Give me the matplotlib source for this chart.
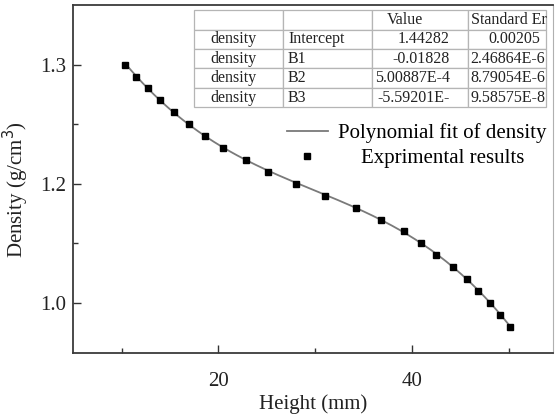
import numpy as np
import matplotlib
matplotlib.use("Agg")
import matplotlib.pyplot as plt
from matplotlib.table import Table
from matplotlib.lines import Line2D

plt.rcParams['font.family'] = ['Liberation Serif', 'DejaVu Serif']

# measured points (height in mm, density in g/cm3)
height = [10.34, 11.45, 12.69, 13.99, 15.41, 16.93, 18.65, 20.44, 22.82, 25.16,
          28.06, 31.05, 34.26, 36.81, 39.22, 40.95, 42.53, 44.23, 45.68, 46.88,
          48.12, 49.12, 50.15]
density = [1.30, 1.29, 1.28, 1.27, 1.26, 1.25, 1.24, 1.23, 1.22, 1.21,
           1.20, 1.19, 1.18, 1.17, 1.16, 1.15, 1.14, 1.13, 1.12, 1.11,
           1.10, 1.09, 1.08]

# fit coefficients shown in the table (B3 is cut off in the table: E-6)
intercept = 1.44282
b1 = -0.01828
b2 = 5.00887e-4
b3 = -5.59201e-6

# table text
table_rows = [
    ["", "", "Value", "Standard Er"],
    ["density", "Intercept", "1.44282", "0.00205"],
    ["density", "B1", "-0.01828", "2.46864E-6"],
    ["density", "B2", "5.00887E-4", "8.79054E-6"],
    ["density", "B3", "-5.59201E-", "9.58575E-8"],
]

ytick_pos = [1.1, 1.2, 1.3]
ytick_labels = ["1.0", "1.2", "1.3"]

fig = plt.figure(figsize=(5.55, 4.17), dpi=100)
ax = fig.add_axes([0.1315, 0.1535, 0.8649, 0.8345])

# fit curve
xf = np.linspace(min(height), max(height), 200)
yf = np.polyval([b3, b2, b1, intercept], xf)
ax.plot(xf, yf, color='#7a7a7a', lw=1.3, zorder=2)
ax.plot(height, density, ls='none', marker='s', ms=4.6, color='black', zorder=3)

ax.set_xlim(4.96, 54.6)
ax.set_ylim(1.058, 1.350)
ax.set_xticks([20, 40])
ax.set_xticks([10, 30, 50], minor=True)
ax.set_yticks(ytick_pos)
ax.set_yticklabels(ytick_labels)
ax.set_yticks([1.15, 1.25], minor=True)
ax.tick_params(which='both', direction='in', labelsize=15, colors='#333333', labelcolor='#222222')
ax.tick_params(which='major', length=6, width=1.0)
ax.tick_params(which='minor', length=3.5, width=1.0)
ax.tick_params(axis='x', pad=14)
ax.tick_params(axis='y', pad=5)

for s in ['left', 'bottom', 'top']:
    ax.spines[s].set_color('#3a3a3a')
    ax.spines[s].set_linewidth(1.3)
ax.spines['right'].set_color('#b0b0b0')
ax.spines['right'].set_linewidth(0.8)

ax.set_xlabel("Height (mm)", fontsize=15, color='#222222')
ax.set_ylabel("Density (g/cm$^3$)", fontsize=15, color='#222222')
ax.yaxis.set_label_coords(-0.087, 0.47)
ax.xaxis.set_label_coords(0.5, -0.118)

# legend, two parts so the texts sit like the original
h_line = Line2D([], [], color='#7a7a7a', lw=1.3)
h_mark = Line2D([], [], ls='none', marker='s', ms=4.6, color='black')
leg1 = ax.legend([h_line], ["Polynomial fit of density"], loc='center left',
                 bbox_to_anchor=(0.445, 0.632), frameon=False, fontsize=15,
                 handlelength=2.0, handletextpad=0.45, borderpad=0, borderaxespad=0)
ax.add_artist(leg1)
ax.legend([h_mark], ["Exprimental results"], loc='center left',
          bbox_to_anchor=(0.445, 0.560), frameon=False, fontsize=15,
          handlelength=2.0, handletextpad=1.55, borderpad=0, borderaxespad=0)

# results table
tb = Table(ax, bbox=[0.2527, 0.7055, 0.7327, 0.2801])
col_w = [0.2513, 0.2531, 0.2747, 0.2209]
locs = [['left', 'left', 'left', 'left'],
        ['left', 'left', 'right', 'right'],
        ['left', 'left', 'right', 'left'],
        ['left', 'left', 'right', 'left'],
        ['left', 'left', 'right', 'left']]
pads = [[0.18, 0.06, 0.155, 0.03],
        [0.18, 0.06, 0.19, 0.07],
        [0.18, 0.06, 0.19, 0.03],
        [0.18, 0.06, 0.19, 0.03],
        [0.18, 0.06, 0.19, 0.03]]
for i, row in enumerate(table_rows):
    for j, txt in enumerate(row):
        c = tb.add_cell(i, j, col_w[j], 0.2, text=txt, loc=locs[i][j],
                        edgecolor='#b5b5b5', facecolor='white')
        c.PAD = pads[i][j]
        c.set_linewidth(0.9)
        c.get_text().set_color('#222222')
        c.get_text().set_clip_path(c)
tb.auto_set_font_size(False)
tb.set_fontsize(11.5)
ax.add_table(tb)

fig.savefig("out.png", dpi=100)
